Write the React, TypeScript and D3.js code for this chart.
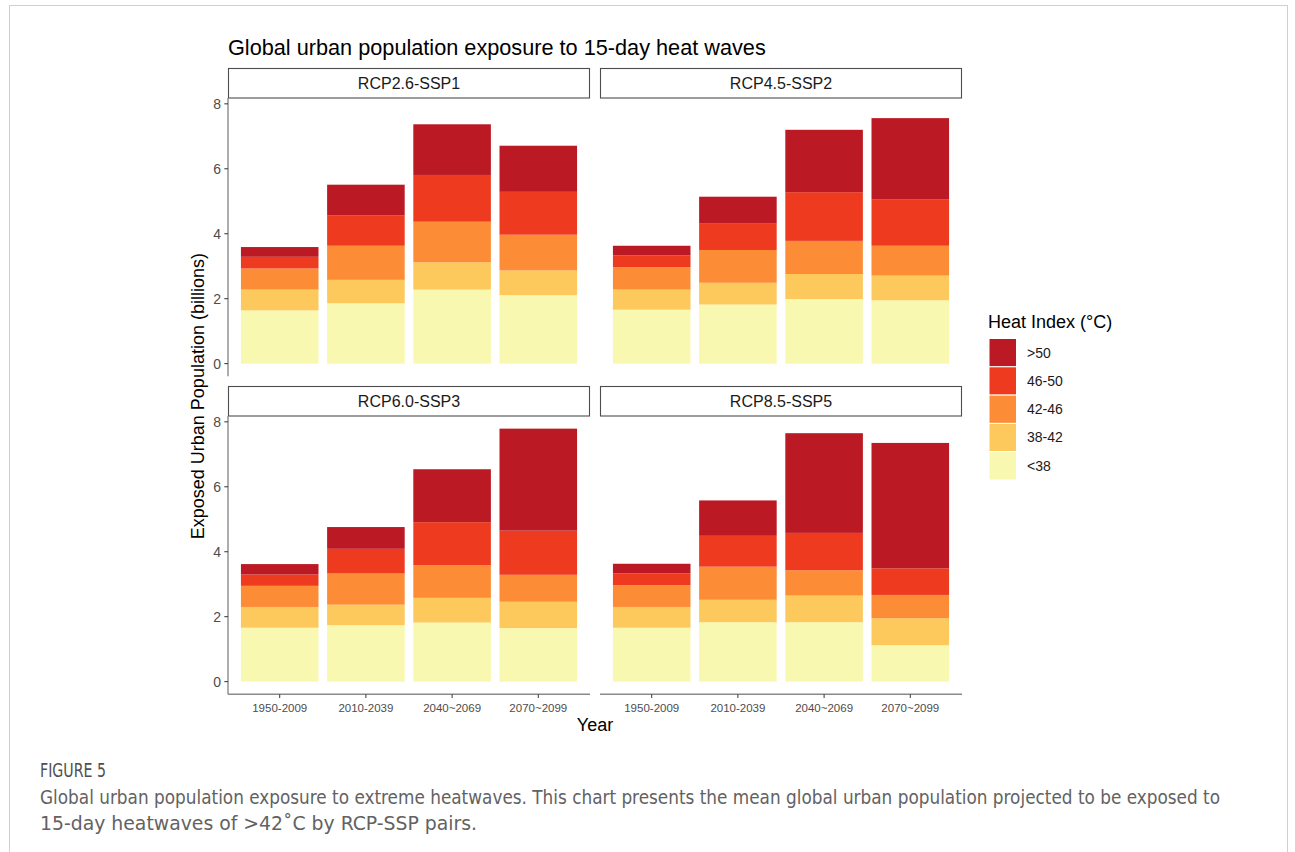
import * as d3 from "d3";

const periods = ["1950-2009", "2010-2039", "2040~2069", "2070~2099"];
const scenarios = ["RCP2.6-SSP1", "RCP4.5-SSP2", "RCP6.0-SSP3", "RCP8.5-SSP5"];
const heatClasses = ["<38", "38-42", "42-46", "46-50", ">50"];
const classColors = ["#f9f8b1", "#fec95c", "#fd8c37", "#ee3a1f", "#bb1923"];
const yTicks = [0, 2, 4, 6, 8];

// exposed population (billions) per heat class, one row per class (<38 first)
const rcp26 = [
  [1.64, 1.86, 2.28, 2.11],
  [0.64, 0.72, 0.84, 0.76],
  [0.65, 1.05, 1.25, 1.1],
  [0.36, 0.93, 1.44, 1.32],
  [0.3, 0.95, 1.56, 1.42],
];
const rcp45 = [
  [1.66, 1.82, 1.99, 1.95],
  [0.62, 0.67, 0.77, 0.76],
  [0.69, 1.01, 1.02, 0.92],
  [0.36, 0.81, 1.5, 1.42],
  [0.3, 0.83, 1.92, 2.51],
];
const rcp60 = [
  [1.66, 1.74, 1.82, 1.65],
  [0.64, 0.63, 0.76, 0.81],
  [0.65, 0.96, 1.01, 0.83],
  [0.35, 0.76, 1.32, 1.36],
  [0.32, 0.67, 1.63, 3.14],
];
const rcp85 = [
  [1.66, 1.83, 1.83, 1.12],
  [0.64, 0.69, 0.82, 0.83],
  [0.67, 1.02, 0.78, 0.72],
  [0.36, 0.95, 1.15, 0.82],
  [0.3, 1.09, 3.07, 3.86],
];
const scenarioValues = [rcp26, rcp45, rcp60, rcp85];

const captionLines = [
  "Global urban population exposure to extreme heatwaves. This chart presents the mean global urban population projected to be exposed to",
  "15-day heatwaves of >42˚C by RCP-SSP pairs.",
];

const W = 1295;
const H = 852;
const colX = [228, 600];
const panelW = 362;
const stripTop = [68.5, 386.5];
const stripH = 29.5;
const panelH = 278.3;
const font = "'Liberation Sans', Arial, sans-serif";

const tables = scenarioValues.map((rows) =>
  periods.map((p, i) => {
    const o: Record<string, any> = { period: p };
    heatClasses.forEach((k, j) => (o[k] = rows[j][i]));
    return o;
  })
);
const stacker = d3.stack<any>().keys(heatClasses);
const stacked = tables.map((t) => stacker(t));
const maxTotal = d3.max(stacked, (s) => d3.max(s[s.length - 1], (d) => d[1])) as number;

const x = d3.scaleBand().domain(periods).range([0, panelW]).paddingInner(0.1).paddingOuter(0.15);
const y = d3
  .scaleLinear()
  .domain([-0.05 * maxTotal, 1.05 * maxTotal])
  .range([panelH, 0]);
const color = d3.scaleOrdinal<string, string>().domain(heatClasses).range(classColors);

function Panel({ idx }: { idx: number }) {
  const col = idx % 2;
  const row = Math.floor(idx / 2);
  const px = colX[col];
  const sTop = stripTop[row];
  const pTop = sTop + stripH;
  return (
    <g>
      <rect x={px + 0.5} y={sTop} width={panelW - 1} height={stripH} fill="#fff" stroke="#4d4d4d" strokeWidth={1.1} />
      <text x={px + panelW / 2} y={sTop + stripH / 2 + 5.5} textAnchor="middle" fontSize={16} fill="#1a1a1a">
        {scenarios[idx]}
      </text>
      <g transform={`translate(${px},${pTop})`}>
        {stacked[idx].map((layer) => (
          <g key={layer.key} fill={color(layer.key)}>
            {layer.map((d) => (
              <rect
                key={d.data.period}
                x={x(d.data.period)}
                y={y(d[1])}
                width={x.bandwidth()}
                height={y(d[0]) - y(d[1])}
              />
            ))}
          </g>
        ))}
        {col === 0 && (
          <g>
            <line x1={0} x2={0} y1={0} y2={panelH} stroke="#8a8a8a" strokeWidth={1.4} />
            {yTicks.map((t) => (
              <g key={t} transform={`translate(0,${y(t)})`}>
                <line x1={-3.7} x2={0} stroke="#333" strokeWidth={1} />
                <text x={-7} dy="0.35em" textAnchor="end" fontSize={14} fill="#4d4d4d">
                  {t}
                </text>
              </g>
            ))}
          </g>
        )}
        {row === 1 && (
          <g>
            <line x1={0} x2={panelW} y1={panelH} y2={panelH} stroke="#8a8a8a" strokeWidth={1.4} />
            {periods.map((p) => (
              <g key={p} transform={`translate(${(x(p) as number) + x.bandwidth() / 2},${panelH})`}>
                <line y1={0} y2={3.7} stroke="#333" strokeWidth={1} />
                <text y={17.5} textAnchor="middle" fontSize={11.5} fill="#4d4d4d">
                  {p}
                </text>
              </g>
            ))}
          </g>
        )}
      </g>
    </g>
  );
}

export default function App() {
  const legendX = 989;
  const legendY = 338.5;
  const keySize = 28.3;
  return (
    <svg
      width={W}
      height={H}
      viewBox={`0 0 ${W} ${H}`}
      style={{ position: "absolute", left: 0, top: 0, background: "#fff" }}
      fontFamily={font}
    >
      <rect x={9.5} y={5.5} width={1278} height={H + 10} fill="none" stroke="#d0d0d0" strokeWidth={1} />
      <text x={228} y={55} fontSize={21.7} fill="#000">
        Global urban population exposure to 15-day heat waves
      </text>
      {scenarios.map((s, i) => (
        <Panel key={s} idx={i} />
      ))}
      <text
        transform={`translate(204,${(stripTop[0] + stripH + stripTop[1] + stripH + panelH) / 2}) rotate(-90)`}
        textAnchor="middle"
        fontSize={18}
        fill="#000"
      >
        Exposed Urban Population (billions)
      </text>
      <text x={colX[0] + (colX[1] + panelW - colX[0]) / 2} y={731} textAnchor="middle" fontSize={18} fill="#000">
        Year
      </text>
      <text x={legendX - 1} y={328} fontSize={18} fill="#000">
        Heat Index (°C)
      </text>
      {heatClasses
        .slice()
        .reverse()
        .map((k, i) => (
          <g key={k} transform={`translate(${legendX},${legendY + i * keySize})`}>
            <rect width={27.5} height={keySize} fill={color(k)} stroke="#fff" strokeWidth={1} />
            <text x={38} y={keySize / 2} dy="0.35em" fontSize={14} fill="#1a1a1a">
              {k}
            </text>
          </g>
        ))}
      <g fontFamily="'Liberation Sans Narrow', 'DejaVu Sans Condensed', 'Open Sans', sans-serif" fill="#626262">
        <text x={40} y={777} fontSize={19} fontWeight={400} fill="#505050" textLength={66} lengthAdjust="spacingAndGlyphs">
          FIGURE 5
        </text>
        {captionLines.map((l, i) => (
          <text
            key={i}
            x={40}
            y={804 + i * 25.5}
            fontSize={19}
            textLength={i === 0 ? 1180 : 437}
            lengthAdjust="spacingAndGlyphs"
          >
            {l}
          </text>
        ))}
      </g>
    </svg>
  );
}
